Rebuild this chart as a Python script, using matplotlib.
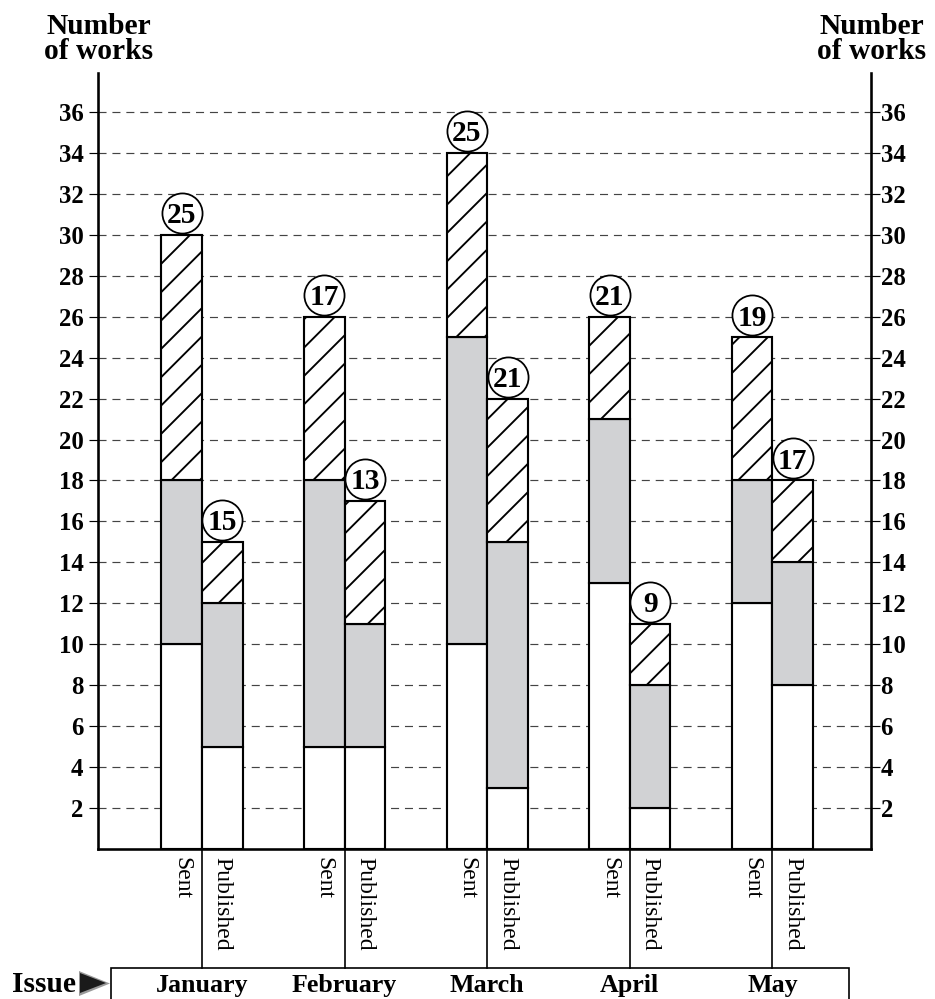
import matplotlib
matplotlib.use("Agg")
import matplotlib.pyplot as plt
import matplotlib.transforms as mtransforms
from matplotlib.patches import Rectangle, Polygon
from matplotlib.lines import Line2D

# ---------------- data ----------------
months = ["January", "February", "March", "April", "May"]
bar_labels = ["Sent", "Published"]
# cumulative segment boundaries (white top, gray top, hatched top)
sent_white = [10, 5, 10, 13, 12]
sent_gray = [18, 18, 25, 21, 18]
sent_total = [30, 26, 34, 26, 25]
sent_circle = [25, 17, 25, 21, 19]
pub_white = [5, 5, 3, 2, 8]
pub_gray = [12, 11, 15, 8, 14]
pub_total = [15, 17, 22, 11, 18]
pub_circle = [15, 13, 21, 9, 17]
yticks = list(range(2, 37, 2))

# ---------------- style ----------------
DPI = 170
W, H = 935, 999
SERIF = ["Liberation Serif", "DejaVu Serif"]
plt.rcParams["font.family"] = SERIF
plt.rcParams["hatch.linewidth"] = 0.8
plt.rcParams["hatch.color"] = "black"
plt.rcParams["lines.scale_dashes"] = False
GRAY = "#d1d2d4"

fig = plt.figure(figsize=(W / DPI, H / DPI), dpi=DPI)
ax_l, ax_r, ax_b, ax_t = 98, 871, 849, 73
ax = fig.add_axes([ax_l / W, 1 - ax_b / H, (ax_r - ax_l) / W, (ax_b - ax_t) / H])

bw = 0.285
off = 0.1425
ax.set_xlim(-0.729, 4.691)
ax.set_ylim(0, 37.9)

edge_lw = 0.9
for i in range(len(months)):
    for xc, w_, g_, t_ in [(i - off, sent_white[i], sent_gray[i], sent_total[i]),
                            (i + off, pub_white[i], pub_gray[i], pub_total[i])]:
        ax.bar(xc, w_, bw, bottom=0, facecolor="white", edgecolor="black", linewidth=edge_lw, zorder=3)
        ax.bar(xc, g_ - w_, bw, bottom=w_, facecolor=GRAY, edgecolor="black", linewidth=edge_lw, zorder=3)
        ax.bar(xc, t_ - g_, bw, bottom=g_, facecolor="white", edgecolor="black", linewidth=edge_lw,
               hatch="//", zorder=3)

# circled numbers
circ_tr = mtransforms.offset_copy(ax.transData, fig=fig, y=9.3, units="points")
for i in range(len(months)):
    for xc, top, val in [(i - off, sent_total[i], sent_circle[i]),
                         (i + off, pub_total[i], pub_circle[i])]:
        ax.plot([xc], [top], marker="o", ms=17, mfc="white", mec="black", mew=0.75,
                transform=circ_tr, zorder=5, clip_on=False)
        ax.text(xc, top, str(val), transform=circ_tr, ha="center", va="center_baseline",
                fontsize=12.5, fontweight="bold", zorder=6, family=SERIF)

# grid
for y in yticks:
    ax.axhline(y, color="#444444", lw=0.5, linestyle=(0, (3.4, 2.5)), zorder=1)

# spines
for s in ["left", "right", "bottom"]:
    ax.spines[s].set_linewidth(1.1)
ax.spines["top"].set_visible(False)

# y ticks left and right
ax.set_yticks(yticks)
ax.set_yticklabels([str(v) for v in yticks], fontweight="bold", fontsize=10.5)
ax.tick_params(axis="y", which="both", left=True, right=True, labelleft=True, labelright=True,
               direction="out", length=3.8, width=0.5, pad=1.5, labelsize=10.5)
for t in ax.yaxis.get_major_ticks():
    t.label1.set_fontweight("bold")
    t.label2.set_fontweight("bold")
    t.label1.set_transform(t.label1.get_transform() + mtransforms.ScaledTranslation(-2 / DPI, 0, fig.dpi_scale_trans))
    t.label2.set_transform(t.label2.get_transform() + mtransforms.ScaledTranslation(-3 / DPI, 0, fig.dpi_scale_trans))

# x tick labels (Sent / Published)
xt, xl = [], []
for i in range(len(months)):
    xt += [i - off, i + off]
    xl += bar_labels
ax.set_xticks(xt)
ax.set_xticklabels(xl, rotation=270, fontsize=10, va="top", ha="center")
ax.tick_params(axis="x", length=0, pad=3.5)

# separators between Sent and Published down to month box, and month names
sep_tr = mtransforms.blended_transform_factory(ax.transData, fig.transFigure)
for i in range(len(months)):
    ax.add_line(Line2D([i, i], [1 - ax_b / H, 1 - 968 / H], transform=sep_tr, color="black",
                       lw=0.7, clip_on=False))
    fig.text(i, 1 - 992 / H, months[i], transform=sep_tr, ha="center", va="baseline",
             fontsize=11, fontweight="bold")

# month box
fig.add_artist(Rectangle((111 / W, -0.05), (849 - 111) / W, 0.05 + 1 - 968 / H,
                         transform=fig.transFigure, facecolor="none", edgecolor="black", lw=0.7))

# Issue label and arrow
fig.text(12 / W, 1 - 992 / H, "Issue", ha="left", va="baseline", fontsize=12.5, fontweight="bold")
fig.add_artist(Polygon([(79 / W, 1 - 971 / H), (79 / W, 1 - 996 / H), (110 / W, 1 - 983.5 / H)],
                       closed=True, transform=fig.transFigure, facecolor="#9a9a9a", edgecolor="none"))
fig.add_artist(Polygon([(80 / W, 1 - 973 / H), (80 / W, 1 - 993 / H), (106 / W, 1 - 983 / H)],
                       closed=True, transform=fig.transFigure, facecolor="#1a1a1a", edgecolor="none"))

# axis titles
for xc in [99, 872]:
    fig.text(xc / W, 1 - 13 / H, "Number\nof works", ha="center", va="top", fontsize=12.5,
             fontweight="bold", linespacing=0.9)

fig.savefig("out.png", dpi=DPI)
